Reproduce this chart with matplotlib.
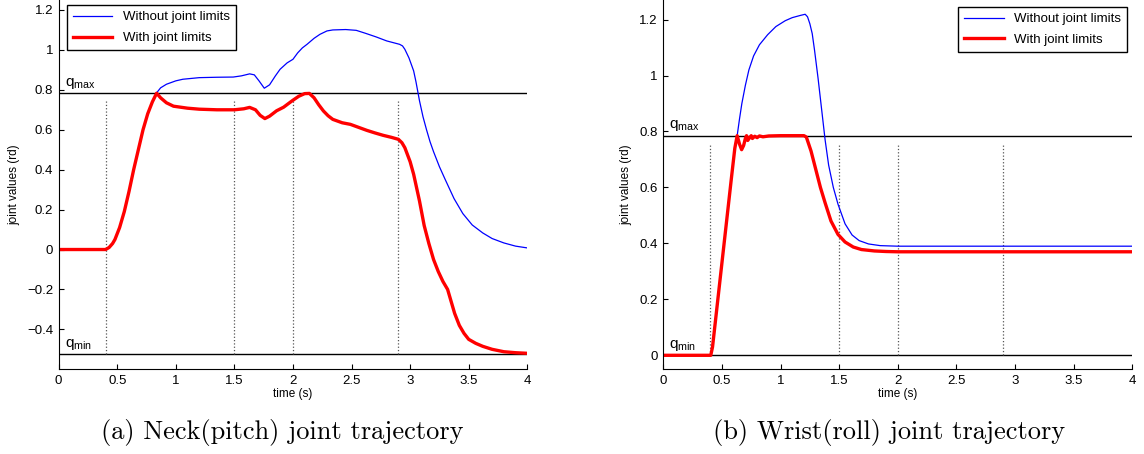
import numpy as np
import matplotlib
matplotlib.use("Agg")
import matplotlib.pyplot as plt

plt.rcParams['font.family'] = ['Liberation Sans', 'DejaVu Sans']
plt.rcParams['mathtext.default'] = 'regular'

# neck (pitch) joint, with joint limits
neck_t_with = [0, 0.40, 0.43, 0.46, 0.48, 0.52, 0.56, 0.60, 0.64, 0.68, 0.72, 0.76, 0.80,
               0.836, 0.87, 0.92, 0.98, 1.10, 1.20, 1.35, 1.50, 1.58, 1.63, 1.68, 1.72,
               1.76, 1.80, 1.86, 1.92, 1.97, 2.00, 2.05, 2.10, 2.14, 2.18, 2.22, 2.26,
               2.30, 2.34, 2.42, 2.49, 2.56, 2.63, 2.70, 2.77, 2.84, 2.90, 2.93, 2.955,
               3.00, 3.03, 3.08, 3.12, 3.16, 3.20, 3.24, 3.28, 3.32, 3.35, 3.38, 3.42,
               3.46, 3.50, 3.56, 3.62, 3.70, 3.80, 3.90, 4.00]
neck_q_with = [0, 0, 0.01, 0.03, 0.05, 0.11, 0.19, 0.29, 0.40, 0.50, 0.60, 0.68, 0.74,
               0.783, 0.76, 0.735, 0.718, 0.708, 0.703, 0.700, 0.700, 0.705, 0.712, 0.700, 0.672,
               0.656, 0.668, 0.695, 0.713, 0.735, 0.748, 0.768, 0.781, 0.782, 0.76, 0.725, 0.694,
               0.670, 0.652, 0.635, 0.627, 0.612, 0.597, 0.584, 0.572, 0.562, 0.552, 0.535, 0.51,
               0.44, 0.377, 0.243, 0.12, 0.03, -0.05, -0.11, -0.16, -0.20, -0.26, -0.32, -0.38,
               -0.42, -0.45, -0.47, -0.485, -0.50, -0.512, -0.517, -0.52]

# neck (pitch) joint, without joint limits
neck_t_free = [0, 0.40, 0.43, 0.46, 0.48, 0.52, 0.56, 0.60, 0.64, 0.68, 0.72, 0.76, 0.80,
               0.836, 0.87, 0.92, 1.00, 1.06, 1.20, 1.35, 1.49, 1.56, 1.63, 1.67, 1.71,
               1.755, 1.80, 1.85, 1.89, 1.95, 2.00, 2.04, 2.08, 2.12, 2.18, 2.23, 2.29,
               2.34, 2.45, 2.54, 2.62, 2.71, 2.80, 2.91, 2.935, 2.955, 2.99, 3.03, 3.05,
               3.08, 3.11, 3.14, 3.17, 3.20, 3.25, 3.30, 3.375, 3.45, 3.53, 3.62, 3.70,
               3.80, 3.90, 4.00]
neck_q_free = [0, 0, 0.01, 0.03, 0.05, 0.11, 0.19, 0.29, 0.40, 0.50, 0.60, 0.68, 0.74,
               0.785, 0.81, 0.828, 0.845, 0.853, 0.861, 0.863, 0.864, 0.870, 0.880, 0.875, 0.845,
               0.808, 0.825, 0.870, 0.903, 0.935, 0.953, 0.985, 1.010, 1.028, 1.058, 1.078, 1.095,
               1.100, 1.102, 1.098, 1.083, 1.065, 1.045, 1.028, 1.020, 1.003, 0.960, 0.895, 0.84,
               0.745, 0.665, 0.60, 0.54, 0.49, 0.415, 0.35, 0.255, 0.18, 0.123, 0.083, 0.055,
               0.033, 0.017, 0.008]

# wrist (roll) joint, with joint limits
wrist_t_with = [0, 0.405, 0.42, 0.46, 0.50, 0.54, 0.58, 0.61, 0.63, 0.65, 0.668, 0.685,
                0.70, 0.71, 0.72, 0.735, 0.75, 0.76, 0.78, 0.80, 0.82, 0.85, 0.90, 1.00,
                1.20, 1.22, 1.26, 1.30, 1.34, 1.38, 1.43, 1.49, 1.55, 1.62, 1.69, 1.80,
                1.90, 2.00, 4.00]
wrist_q_with = [0, 0, 0.03, 0.18, 0.33, 0.48, 0.63, 0.74, 0.785, 0.755, 0.735, 0.75,
                0.775, 0.785, 0.768, 0.777, 0.785, 0.775, 0.783, 0.778, 0.784, 0.781, 0.784, 0.785,
                0.785, 0.78, 0.73, 0.665, 0.60, 0.545, 0.48, 0.432, 0.405, 0.387, 0.378, 0.373,
                0.371, 0.370, 0.370]

# wrist (roll) joint, without joint limits
wrist_t_free = [0, 0.405, 0.42, 0.46, 0.50, 0.54, 0.58, 0.61, 0.63, 0.65, 0.67, 0.70,
                0.73, 0.77, 0.82, 0.89, 0.96, 1.04, 1.10, 1.17, 1.21, 1.23, 1.25, 1.27,
                1.29, 1.32, 1.35, 1.38, 1.41, 1.45, 1.49, 1.55, 1.61, 1.67, 1.75, 1.85,
                2.00, 4.00]
wrist_q_free = [0, 0, 0.03, 0.18, 0.33, 0.48, 0.63, 0.74, 0.785, 0.845, 0.90, 0.965,
                1.02, 1.07, 1.11, 1.146, 1.175, 1.196, 1.207, 1.215, 1.219, 1.21, 1.185, 1.15,
                1.09, 0.99, 0.88, 0.77, 0.68, 0.60, 0.54, 0.47, 0.43, 0.41, 0.398, 0.392,
                0.39, 0.39]

events = [0.4, 1.5, 2.0, 2.9]
neck_limits = [-0.5236, 0.7854]
wrist_limits = [0.0, 0.7854]
xticks = [0, 0.5, 1, 1.5, 2, 2.5, 3, 3.5, 4]
neck_yticks = [-0.4, -0.2, 0, 0.2, 0.4, 0.6, 0.8, 1, 1.2]
wrist_yticks = [0, 0.2, 0.4, 0.6, 0.8, 1, 1.2]
captions = ["(a) Neck(pitch) joint trajectory", "(b) Wrist(roll) joint trajectory"]


def fmt(v):
    s = "%g" % v
    return s.replace("-", "\u2212")


def draw(ax, t_free, q_free, t_with, q_with, lims, yticks, ylim, legend_pos):
    ax.axhline(lims[1], color='black', lw=1.0)
    ax.axhline(lims[0], color='black', lw=1.0)
    ax.vlines(events, lims[0], lims[1] - 0.03, colors='#555555', linestyles=':', lw=0.9)
    ax.plot(t_free, q_free, color='#0000ff', lw=0.9, label='Without joint limits')
    ax.plot(t_with, q_with, color='#ff0000', lw=2.4, label='With joint limits')
    ax.text(0.05, lims[1] + 0.008, r'$q_{max}$', fontsize=11, va='bottom')
    ax.text(0.05, lims[0] + 0.008, r'$q_{min}$', fontsize=11, va='bottom')
    ax.set_xlim(0, 4)
    ax.set_ylim(*ylim)
    ax.set_xticks(xticks)
    ax.set_xticklabels([fmt(v) for v in xticks])
    ax.set_yticks(yticks)
    ax.set_yticklabels([fmt(v) for v in yticks])
    ax.spines['top'].set_visible(False)
    ax.spines['right'].set_visible(False)
    ax.tick_params(direction='in', length=3.5, labelsize=9.5, pad=4)
    ax.set_xlabel('time (s)', fontsize=8.5, labelpad=1)
    ax.set_ylabel('joint values (rd)', fontsize=8.5, labelpad=5)
    loc, anchor = legend_pos
    leg = ax.legend(loc=loc, bbox_to_anchor=anchor, fontsize=9.5, fancybox=False,
                    edgecolor='black', framealpha=1, borderaxespad=0,
                    handlelength=3.0, labelspacing=0.65, borderpad=0.45)
    leg.get_frame().set_linewidth(1.0)


fig = plt.figure(figsize=(11.44, 4.54), dpi=100)
ax1 = fig.add_axes([0.0513, 0.1866, 0.4096, 0.8134])
ax2 = fig.add_axes([0.5798, 0.1866, 0.41, 0.8134])

draw(ax1, neck_t_free, neck_q_free, neck_t_with, neck_q_with, neck_limits,
     neck_yticks, (-0.6, 1.25), ('upper left', (0.017, 0.986)))
draw(ax2, wrist_t_free, wrist_q_free, wrist_t_with, wrist_q_with, wrist_limits,
     wrist_yticks, (-0.05, 1.27), ('upper right', (0.989, 0.981)))

fig.text(282 / 1144, 1 - 433 / 454, captions[0], family='cmr10', fontsize=19,
         ha='center', va='center')
fig.text(889 / 1144, 1 - 433 / 454, captions[1], family='cmr10', fontsize=19,
         ha='center', va='center')

fig.savefig('out.png', dpi=100)
